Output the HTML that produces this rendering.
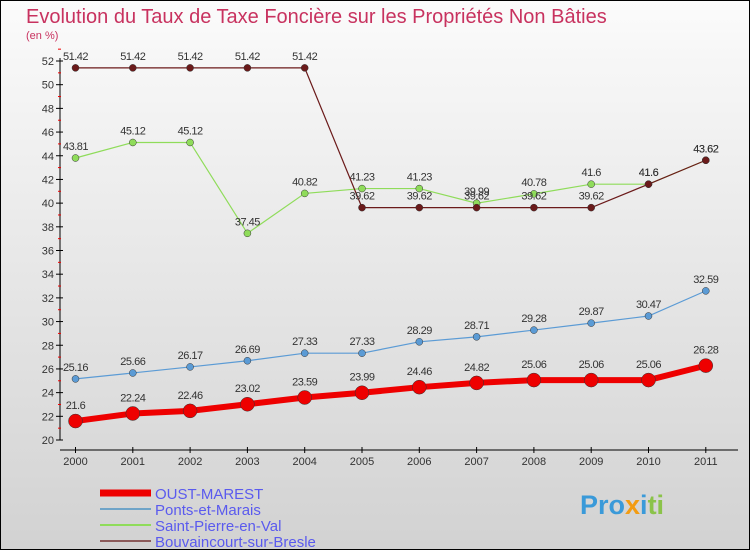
<!DOCTYPE html>
<html><head><meta charset="utf-8"><style>
body{margin:0;width:750px;height:550px;overflow:hidden}
svg{display:block;font-family:"Liberation Sans",sans-serif}
</style></head><body>
<svg id="c" width="750" height="550">
<defs><linearGradient id="bg" x1="0" y1="0" x2="0" y2="1"><stop offset="0" stop-color="#fbfbfb"/><stop offset="1" stop-color="#d2d2d2"/></linearGradient></defs>
<rect x="0.5" y="0.5" width="749" height="549" fill="url(#bg)" stroke="#000"/>
<text x="26" y="23" font-size="20" fill="#c8325f">Evolution du Taux de Taxe Foncière sur les Propriétés Non Bâties</text>
<text x="26" y="39" font-size="11" fill="#c8325f">(en %)</text>
<g id="axes"></g><g id="series"></g><g id="legend"></g>
<text x="580" y="514" font-size="27" font-weight="bold" fill="#3a9ad9">Pro<tspan fill="#f39c12">x</tspan><tspan fill="#3a9ad9">i</tspan><tspan fill="#8bc34a">ti</tspan></text>
</svg>
<script>
const years=["2000","2001","2002","2003","2004","2005","2006","2007","2008","2009","2010","2011"];
const yTicks=[20,22,24,26,28,30,32,34,36,38,40,42,44,46,48,50,52];
const oust=[21.6,22.24,22.46,23.02,23.59,23.99,24.46,24.82,25.06,25.06,25.06,26.28];
const ponts=[25.16,25.66,26.17,26.69,27.33,27.33,28.29,28.71,29.28,29.87,30.47,32.59];
const stpierre=[43.81,45.12,45.12,37.45,40.82,41.23,41.23,39.99,40.78,41.6,41.6,43.62];
const bouv=[51.42,51.42,51.42,51.42,51.42,39.62,39.62,39.62,39.62,39.62,41.6,43.62];
const NS="http://www.w3.org/2000/svg";
const X=i=>75.5+i*57.3, Y=v=>440-(v-20)*(379/32);
function mk(t,a,p){const e=document.createElementNS(NS,t);for(const k in a)e.setAttribute(k,a[k]);p.appendChild(e);return e;}
const ax=document.getElementById('axes');
let l=mk('line',{x1:60,y1:Y(52)-3,x2:60,y2:440,stroke:'#000'},ax);


yTicks.forEach(v=>{
 mk('line',{x1:56,x2:63,y1:Y(v),y2:Y(v),stroke:'#000'},ax);
 mk('line',{x1:58,x2:61,y1:Y(v+1),y2:Y(v+1),stroke:'#e00'},ax);
 const t=mk('text',{x:54,y:Y(v)+4,'font-size':11,'text-anchor':'end',fill:'#333'},ax);t.textContent=v;
 
 
});
l=mk('line',{x1:60,y1:450,x2:738,y2:450,stroke:'#000'},ax);


years.forEach((y,i)=>{
 mk('line',{x1:X(i),x2:X(i),y1:447,y2:453,stroke:'#000'},ax);
 const t=mk('text',{x:X(i),y:465,'font-size':11,'text-anchor':'middle',fill:'#333'},ax);t.textContent=y;
 
 
});
const sg=document.getElementById('series');
function series(d,col,w,r,name,dy){
 const g=mk('g',{},sg);
 
 
 mk('polyline',{points:d.map((v,i)=>X(i)+','+Y(v)).join(' '),fill:'none',stroke:col,'stroke-width':w},g);
 d.forEach((v,i)=>{
  const c=mk('circle',{cx:X(i),cy:Y(v),r:r,fill:col,stroke:'#333','stroke-width':0.5},g);
  
  
  const t=mk('text',{x:X(i),y:Y(v)-dy,'font-size':11,'text-anchor':'middle',fill:'#333','letter-spacing':'-0.5'},g);t.textContent=v;
  
  
 });
}
series(ponts,'#5b9bd5',1.2,3.5,'ponts-et-marais',8);
series(stpierre,'#8fdc5a',1.2,3.5,'saint-pierre-en-val',8);
series(bouv,'#6b1a1a',1.2,3.5,'bouvaincourt-sur-bresle',8);
series(oust,'#ee0000',6,7,'oust-marest',12);
const lg=document.getElementById('legend');
[['OUST-MAREST','#ee0000',7],['Ponts-et-Marais','#6fa4c8',2],['Saint-Pierre-en-Val','#8fdc5a',2],['Bouvaincourt-sur-Bresle','#8b5a5a',2]].forEach((e,i)=>{
 const y=493+i*16;
 const g=mk('g',{},lg);
 
 
 mk('line',{x1:100,x2:151,y1:y,y2:y,stroke:e[1],'stroke-width':e[2]},g);
 const t=mk('text',{x:155,y:y+6,'font-size':15,fill:'#5a5aee'},g);t.textContent=e[0];
});
</script>
</body></html>
